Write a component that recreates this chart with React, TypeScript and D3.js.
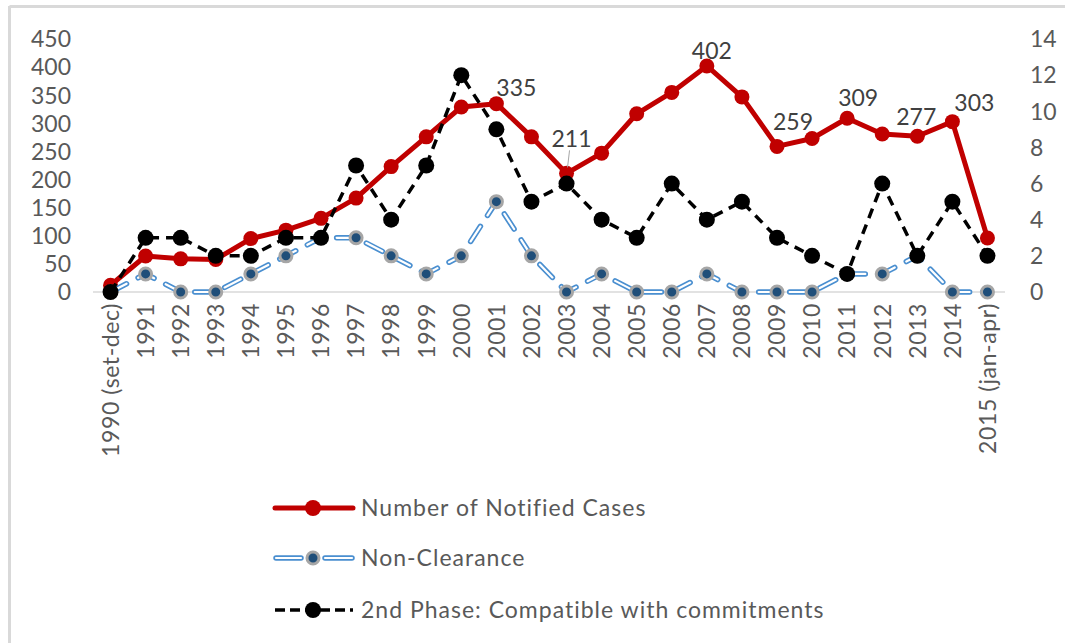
import * as d3 from 'd3';

const years = [
  '1990 (set-dec)', '1991', '1992', '1993', '1994', '1995', '1996', '1997', '1998', '1999',
  '2000', '2001', '2002', '2003', '2004', '2005', '2006', '2007', '2008', '2009',
  '2010', '2011', '2012', '2013', '2014', '2015 (jan-apr)'
];

// left axis
const notifiedCases = [
  12, 64, 59, 58, 95, 110, 131, 167, 223, 276,
  329, 335, 276, 211, 247, 317, 355, 402, 347, 259,
  273, 309, 281, 277, 303, 96
];

// right axis
const nonClearance = [
  0, 1, 0, 0, 1, 2, 3, 3, 2, 1,
  2, 5, 2, 0, 1, 0, 0, 1, 0, 0,
  0, 1, 1, 2, 0, 0
];

const secondPhase = [
  0, 3, 3, 2, 2, 3, 3, 7, 4, 7,
  12, 9, 5, 6, 4, 3, 6, 4, 5, 3,
  2, 1, 6, 2, 5, 2
];

const leftTicks = [0, 50, 100, 150, 200, 250, 300, 350, 400, 450];
const rightTicks = [0, 2, 4, 6, 8, 10, 12, 14];

// data labels shown on the red series, with nudges (dx, dy to baseline)
const labelledYears = ['2001', '2003', '2007', '2009', '2011', '2013', '2014'];
const labelNudge: Record<string, [number, number]> = {
  '2001': [20, -8],
  '2003': [5, -26],
  '2007': [5, -7],
  '2009': [16, -16],
  '2011': [11, -12],
  '2013': [-1, -11],
  '2014': [22, -11],
};

const RED = '#c00000';
const BLUE = '#4a8fd0';
const NAVY = '#1f4e79';
const TEXT = '#595959';
const FONT = 'Lato, "Open Sans", sans-serif';

export default function App() {
  const width = 1065;
  const height = 643;
  const plot = { left: 93, right: 1005, top: 39, bottom: 292 };

  const x = d3.scalePoint<string>().domain(years).range([plot.left, plot.right]).padding(0.5);
  const yL = d3.scaleLinear().domain([0, 450]).range([plot.bottom, plot.top]);
  const yR = d3.scaleLinear().domain([0, 14]).range([plot.bottom, plot.top]);

  const lineL = d3.line<number>().x((_, i) => x(years[i])!).y(d => yL(d));
  const lineR = d3.line<number>().x((_, i) => x(years[i])!).y(d => yR(d));

  const legendX0 = 275;
  const legendX1 = 353;
  const legendMid = 313;
  const legendText = 361;
  const rows = [508, 558, 610];

  return (
    <svg
      width={width}
      height={height}
      style={{ position: 'absolute', left: 0, top: 0, background: '#fff', fontFamily: FONT }}
    >
      {/* chart frame (cropped) */}
      <line x1={9.5} x2={9.5} y1={6} y2={height} stroke="#d9d9d9" strokeWidth={3} />
      <line x1={9.5} x2={width} y1={6.5} y2={6.5} stroke="#d9d9d9" strokeWidth={3} />

      {/* baseline */}
      <line x1={plot.left} x2={plot.right} y1={yL(0)} y2={yL(0)} stroke="#d9d9d9" strokeWidth={1.5} />

      {/* left axis */}
      {leftTicks.map(t => (
        <text key={'l' + t} x={71} y={yL(t)} dy="0.36em" textAnchor="end" fontSize={23} fill={TEXT}>
          {t}
        </text>
      ))}

      {/* right axis */}
      {rightTicks.map(t => (
        <text key={'r' + t} x={1030} y={yR(t)} dy="0.36em" textAnchor="start" fontSize={23} fill={TEXT}>
          {t}
        </text>
      ))}

      {/* category labels */}
      {years.map(yr => (
        <text
          key={yr}
          transform={`translate(${x(yr)},303) rotate(-90)`}
          dy="0.36em"
          textAnchor="end"
          fontSize={23}
          letterSpacing={0.6}
          fill={TEXT}
        >
          {yr}
        </text>
      ))}

      {/* Number of Notified Cases */}
      <path d={lineL(notifiedCases)!} fill="none" stroke={RED} strokeWidth={5} strokeLinejoin="round" />
      {notifiedCases.map((v, i) => (
        <circle key={'n' + i} cx={x(years[i])} cy={yL(v)} r={7.5} fill={RED} />
      ))}

      {/* Non-Clearance: outlined long dashes */}
      <path d={lineR(nonClearance)!} fill="none" stroke={BLUE} strokeWidth={5.5}
        strokeDasharray="18,13" strokeLinecap="round" strokeLinejoin="round" />
      <path d={lineR(nonClearance)!} fill="none" stroke="#fff" strokeWidth={2.2}
        strokeDasharray="18,13" strokeLinecap="round" strokeLinejoin="round" />
      {nonClearance.map((v, i) => (
        <circle key={'c' + i} cx={x(years[i])} cy={yR(v)} r={6} fill={NAVY} stroke="#a6a6a6" strokeWidth={3} />
      ))}

      {/* 2nd Phase */}
      <path d={lineR(secondPhase)!} fill="none" stroke="#000" strokeWidth={3.5}
        strokeDasharray="10,7" strokeLinejoin="round" />
      {secondPhase.map((v, i) => (
        <circle key={'p' + i} cx={x(years[i])} cy={yR(v)} r={8} fill="#000" />
      ))}

      {/* data labels */}
      {labelledYears.map(yr => {
        const i = years.indexOf(yr);
        const [dx, dy] = labelNudge[yr];
        const px = x(yr)!;
        const py = yL(notifiedCases[i]);
        return (
          <g key={'lab' + yr}>
            {yr === '2003' && (
              <line x1={px + 3} y1={py + dy + 3} x2={px + 1} y2={py - 6} stroke="#a6a6a6" strokeWidth={1} />
            )}
            <text x={px + dx} y={py + dy} textAnchor="middle" fontSize={23} fill="#404040">
              {notifiedCases[i]}
            </text>
          </g>
        );
      })}

      {/* legend */}
      <g fontSize={23} letterSpacing={1} fill={TEXT}>
        <line x1={legendX0} x2={legendX1} y1={rows[0]} y2={rows[0]} stroke={RED} strokeWidth={5} strokeLinecap="round" />
        <circle cx={legendMid} cy={rows[0]} r={8} fill={RED} />
        <text x={legendText} y={rows[0]} dy="0.35em">Number of Notified Cases</text>

        {[[legendX0 + 1, 301], [325, legendX1 - 1]].map(([a, b]) => (
          <g key={'bl' + a}>
            <line x1={a} x2={b} y1={rows[1]} y2={rows[1]} stroke={BLUE} strokeWidth={5.5} strokeLinecap="round" />
            <line x1={a} x2={b} y1={rows[1]} y2={rows[1]} stroke="#fff" strokeWidth={2.2} strokeLinecap="round" />
          </g>
        ))}
        <circle cx={legendMid} cy={rows[1]} r={6} fill={NAVY} stroke="#a6a6a6" strokeWidth={3} />
        <text x={legendText} y={rows[1]} dy="0.35em">Non-Clearance</text>

        <line x1={legendX0} x2={legendX1} y1={rows[2]} y2={rows[2]} stroke="#000" strokeWidth={3.5} strokeDasharray="10,5" />
        <circle cx={legendMid} cy={rows[2]} r={8} fill="#000" />
        <text x={legendText} y={rows[2]} dy="0.35em">2nd Phase: Compatible with commitments</text>
      </g>
    </svg>
  );
}
